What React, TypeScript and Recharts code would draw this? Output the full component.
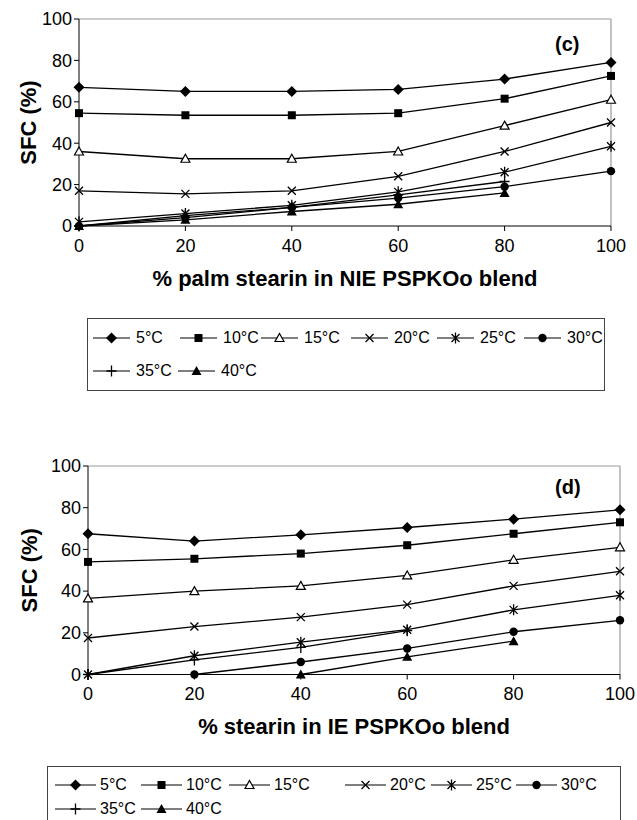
import React from 'react'
import { LineChart, Line, XAxis, YAxis, ReferenceLine } from 'recharts'

const xValues = [0, 20, 40, 60, 80, 100]
const yTicks = [0, 20, 40, 60, 80, 100]
const tempLabels = ['5°C', '10°C', '15°C', '20°C', '25°C', '30°C', '35°C', '40°C']
const markerShapes = ['diamond', 'square', 'triangleOpen', 'cross', 'star', 'circle', 'plus', 'triangle']

// (c) non-interesterified blends
const nie5 = [67, 65, 65, 66, 71, 79]
const nie10 = [54.5, 53.5, 53.5, 54.5, 61.5, 72.5]
const nie15 = [36, 32.5, 32.5, 36, 48.5, 61]
const nie20 = [17, 15.5, 17, 24, 36, 50]
const nie25 = [2, 6, 10, 16.5, 26, 38.5]
const nie30 = [0, 4, 9, 13.5, 19, 26.5]
const nie35 = [0, 5, 9, 15, 21.5, null]
const nie40 = [0, 3, 7, 10.5, 16, null]

// (d) interesterified blends
const ie5 = [67.5, 64, 67, 70.5, 74.5, 79]
const ie10 = [54, 55.5, 58, 62, 67.5, 73]
const ie15 = [36.5, 40, 42.5, 47.5, 55, 61]
const ie20 = [17.5, 23, 27.5, 33.5, 42.5, 49.5]
const ie25 = [0, 9, 15.5, 21.5, 31, 38]
const ie30 = [null, 0, 6, 12.5, 20.5, 26]
const ie35 = [0, 7, 13, 21, null, null]
const ie40 = [null, null, 0, 8.5, 16, null]

const nieSeries = [nie5, nie10, nie15, nie20, nie25, nie30, nie35, nie40]
const ieSeries = [ie5, ie10, ie15, ie20, ie25, ie30, ie35, ie40]

const FONT = '"Liberation Sans", Arial, sans-serif'

const buildRows = (series: (number | null)[][]) =>
  xValues.map((x, i) => {
    const row: any = { x }
    series.forEach((s, j) => {
      row['t' + j] = s[i]
    })
    return row
  })

function Marker({ shape, cx, cy }: { shape: string; cx: number; cy: number }) {
  const k = '#000'
  switch (shape) {
    case 'diamond':
      return <polygon points={`${cx},${cy - 5.5} ${cx + 5.5},${cy} ${cx},${cy + 5.5} ${cx - 5.5},${cy}`} fill={k} />
    case 'square':
      return <rect x={cx - 4} y={cy - 4} width={8} height={8} fill={k} />
    case 'triangleOpen':
      return (
        <polygon
          points={`${cx},${cy - 4.5} ${cx + 4.5},${cy + 3.5} ${cx - 4.5},${cy + 3.5}`}
          fill="#fff"
          stroke={k}
          strokeWidth={1.2}
        />
      )
    case 'triangle':
      return <polygon points={`${cx},${cy - 5} ${cx + 5},${cy + 4} ${cx - 5},${cy + 4}`} fill={k} />
    case 'cross':
      return <path d={`M${cx - 4},${cy - 4}L${cx + 4},${cy + 4}M${cx - 4},${cy + 4}L${cx + 4},${cy - 4}`} stroke={k} strokeWidth={1.3} />
    case 'star':
      return (
        <path
          d={`M${cx - 4},${cy - 4}L${cx + 4},${cy + 4}M${cx - 4},${cy + 4}L${cx + 4},${cy - 4}M${cx},${cy - 5.5}L${cx},${cy + 5.5}`}
          stroke={k}
          strokeWidth={1.3}
        />
      )
    case 'circle':
      return <circle cx={cx} cy={cy} r={4.2} fill={k} />
    case 'plus':
      return <path d={`M${cx - 5},${cy}L${cx + 5},${cy}M${cx},${cy - 5.5}L${cx},${cy + 5.5}`} stroke={k} strokeWidth={1.3} />
    default:
      return null
  }
}

const makeDot = (shape: string) => (props: any) => {
  const { cx, cy, index, value } = props
  if (cx == null || cy == null || value == null) return <g key={`e${index}`} />
  return (
    <g key={`d${index}`}>
      <Marker shape={shape} cx={cx} cy={cy} />
    </g>
  )
}

interface PanelProps {
  top: number
  series: (number | null)[][]
  margin: { top: number; right: number; bottom: number; left: number }
  xTitle: string
  titleX: number
}

function Panel({ top, series, margin, xTitle, titleX }: PanelProps) {
  const rows = buildRows(series)
  return (
    <div style={{ position: 'absolute', left: 0, top }}>
      <LineChart width={637} height={300} data={rows} margin={margin}>
        <ReferenceLine y={100} stroke="#999" strokeWidth={1.2} />
        <ReferenceLine x={100} stroke="#999" strokeWidth={1.2} />
        <XAxis
          dataKey="x"
          type="number"
          domain={[0, 100]}
          ticks={xValues}
          height={30}
          stroke="#000"
          tickSize={5}
          tickMargin={8}
          tick={{ fill: '#000', fontSize: 18, fontFamily: FONT }}
          label={{
            content: (p: any) => (
              <text
                x={p.viewBox.x + p.viewBox.width / 2}
                y={p.viewBox.y + 52}
                textAnchor="middle"
                dominantBaseline="central"
                fontFamily={FONT}
                fontWeight="bold"
                fontSize={22}
                fill="#000"
              >
                {xTitle}
              </text>
            )
          }}
        />
        <YAxis
          type="number"
          domain={[0, 100]}
          ticks={yTicks}
          width={60}
          stroke="#000"
          tickSize={5}
          tickMargin={2}
          tick={{ fill: '#000', fontSize: 18, fontFamily: FONT }}
          label={{
            content: (p: any) => {
              const cy = p.viewBox.y + p.viewBox.height / 2
              return (
                <text
                  x={titleX}
                  y={cy}
                  transform={`rotate(-90 ${titleX} ${cy})`}
                  textAnchor="middle"
                  dominantBaseline="central"
                  fontFamily={FONT}
                  fontWeight="bold"
                  fontSize={22}
                  fill="#000"
                >
                  SFC (%)
                </text>
              )
            }
          }}
        />
        {series.map((_, j) => (
          <Line
            key={j}
            dataKey={'t' + j}
            stroke="#000"
            strokeWidth={1.3}
            dot={makeDot(markerShapes[j])}
            activeDot={false}
            isAnimationActive={false}
          />
        ))}
      </LineChart>
    </div>
  )
}

interface LegendProps {
  left: number
  top: number
  width: number
  height: number
  cols: number[][]
  rowY: number[]
  lineLen: number
  gap: number
}

function LegendBox({ left, top, width, height, cols, rowY, lineLen, gap }: LegendProps) {
  let idx = 0
  return (
    <div
      style={{
        position: 'absolute',
        left,
        top,
        width,
        height,
        border: '1px solid #444',
        boxSizing: 'border-box',
        fontFamily: FONT,
        fontSize: 16
      }}
    >
      {cols.map((row, r) =>
        row.map((cx) => {
          const i = idx++
          return (
            <div
              key={i}
              style={{
                position: 'absolute',
                left: cx - left - 1,
                top: rowY[r] - top - 11,
                height: 22,
                display: 'flex',
                alignItems: 'center',
                whiteSpace: 'nowrap'
              }}
            >
              <svg width={lineLen} height={14} style={{ display: 'block' }}>
                <line x1={0} y1={7} x2={lineLen} y2={7} stroke="#000" strokeWidth={1.2} />
                <Marker shape={markerShapes[i]} cx={lineLen / 2} cy={7} />
              </svg>
              <span style={{ marginLeft: gap }}>{tempLabels[i]}</span>
            </div>
          )
        })
      )}
    </div>
  )
}

export default function App() {
  return (
    <div style={{ position: 'absolute', left: 0, top: 0, width: 637, height: 820, overflow: 'hidden', background: '#fff' }}>
      <Panel
        top={0}
        series={nieSeries}
        margin={{ top: 19, right: 26, bottom: 44, left: 19 }}
        xTitle="% palm stearin in NIE PSPKOo blend"
        titleX={28}
      />
      <div style={{ position: 'absolute', left: 555, top: 33, fontFamily: FONT, fontWeight: 'bold', fontSize: 20 }}>(c)</div>
      <LegendBox
        left={87}
        top={318}
        width={518}
        height={73}
        cols={[[93, 180, 261, 351, 437, 524], [93, 178]]}
        rowY={[337, 370]}
        lineLen={37}
        gap={6}
      />

      <Panel
        top={440}
        series={ieSeries}
        margin={{ top: 26, right: 17, bottom: 35.5, left: 28 }}
        xTitle="% stearin in IE PSPKOo blend"
        titleX={29}
      />
      <div style={{ position: 'absolute', left: 555, top: 476, fontFamily: FONT, fontWeight: 'bold', fontSize: 20 }}>(d)</div>
      <LegendBox
        left={47}
        top={766}
        width={574}
        height={70}
        cols={[[55, 141, 229, 345, 431, 516], [55, 141]]}
        rowY={[784, 808]}
        lineLen={41}
        gap={4}
      />
    </div>
  )
}
